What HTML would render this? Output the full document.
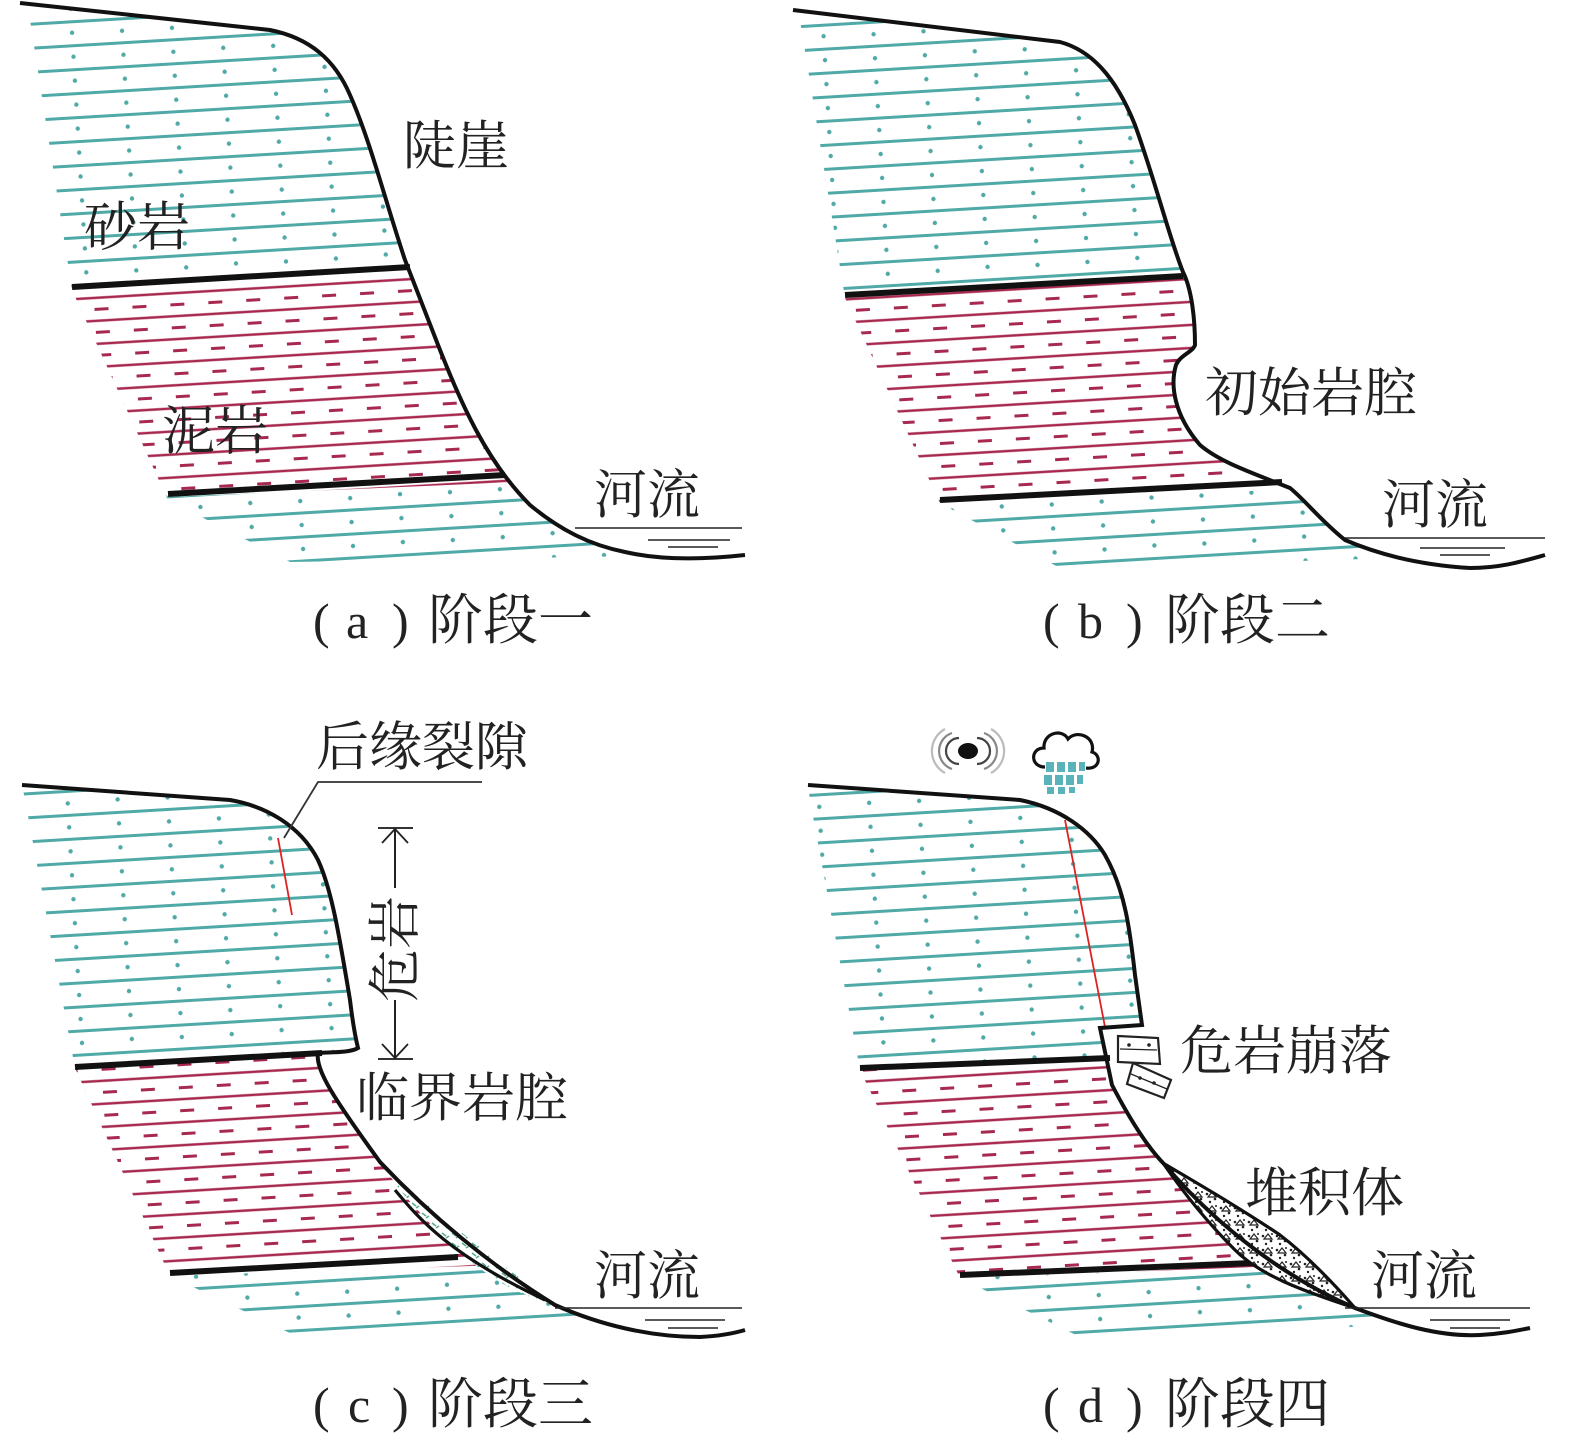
<!DOCTYPE html>
<html><head><meta charset="utf-8"><style>
html,body{margin:0;padding:0;background:#fff;}
svg{display:block;}
text{font-family:"Liberation Serif","Noto Serif CJK SC",serif;fill:#222;}
</style></head><body>
<svg width="1575" height="1447" viewBox="0 0 1575 1447" xmlns="http://www.w3.org/2000/svg">
<defs>
<pattern id="sand" patternUnits="userSpaceOnUse" width="150" height="24" patternTransform="rotate(-3.4)">
  <line x1="0" y1="2" x2="150" y2="2" stroke="#4fa9a6" stroke-width="3"/>
  <circle cx="20" cy="14" r="2.2" fill="#4fa9a6"/><circle cx="70" cy="13" r="2.2" fill="#4fa9a6"/><circle cx="120" cy="14" r="2.2" fill="#4fa9a6"/>
</pattern>
<pattern id="mud" patternUnits="userSpaceOnUse" width="114" height="23" patternTransform="rotate(-3.4)">
  <line x1="0" y1="4" x2="114" y2="4" stroke="#a8294f" stroke-width="2.6"/>
  <line x1="0" y1="15.5" x2="114" y2="15.5" stroke="#a8294f" stroke-width="3" stroke-dasharray="14 24"/>
</pattern>
<pattern id="deb" patternUnits="userSpaceOnUse" width="14" height="14">
  <rect width="14" height="14" fill="#fff"/>
  <circle cx="3" cy="4" r="1.3" fill="#222"/><circle cx="11" cy="9" r="1.3" fill="#222"/><circle cx="6" cy="12" r="1.2" fill="#222"/><circle cx="12" cy="2" r="1" fill="#222"/>
  <path d="M8 2 l4 5 h-8z" fill="none" stroke="#222" stroke-width="1.2"/>
</pattern>
<pattern id="debg" patternUnits="userSpaceOnUse" width="10" height="10">
  <rect width="10" height="10" fill="#fff"/><path d="M2 3 l4 3 M6 8 l3 -2" stroke="#5aa990" stroke-width="1.6"/>
</pattern>

<clipPath id="ca"><path d="M20,3 L270,30 C310,38 335,60 350,95 C370,140 385,200 405,260 L440,350 C460,400 485,460 530,505 C560,530 590,545 625,552 L640,556 L290,562 L168,500 L72,290 L30,20 Z"/></clipPath>
<clipPath id="cb"><path d="M793,10 L1060,42 C1090,50 1115,75 1135,125 C1155,180 1170,240 1183,272 C1192,290 1195,320 1195,345 C1193,352 1180,355 1176,365 C1170,385 1174,415 1200,445 C1220,462 1250,472 1290,488 C1305,500 1320,520 1345,540 L1400,558 L1060,568 L940,503 L845,298 L800,20 Z"/></clipPath>
<clipPath id="cc"><path d="M22,785 L230,800 C265,806 300,825 318,860 C332,890 340,940 350,1000 C353,1025 356,1040 358,1048 C350,1053 330,1052 318,1053 C315,1070 335,1100 380,1162 C430,1215 490,1265 555,1305 L600,1322 L290,1333 L170,1276 L75,1068 L25,800 Z"/></clipPath>
<clipPath id="cd"><path d="M808,785 L1020,800 C1060,808 1090,830 1105,855 C1125,890 1130,930 1135,975 L1142,1025 L1100,1028 L1112,1085 C1125,1110 1145,1145 1165,1165 C1220,1230 1290,1280 1355,1308 L1400,1325 L1080,1337 L960,1278 L860,1070 L810,800 Z"/></clipPath>
</defs>

<!-- PANEL A -->
<g clip-path="url(#ca)">
  <rect x="0" y="0" width="800" height="600" fill="url(#sand)"/>
  <polygon points="40,290 800,245 800,470 168,497" fill="#fff"/>
  <polygon points="40,290 800,245 800,470 168,497" fill="url(#mud)"/>
</g>
<line x1="72" y1="287" x2="410" y2="267" stroke="#111" stroke-width="6"/>
<line x1="168" y1="494" x2="505" y2="475" stroke="#111" stroke-width="6"/>
<path d="M20,3 L270,30 C310,38 335,60 350,95 C370,140 385,200 405,260 L440,350 C460,400 485,460 530,505 C560,530 590,545 625,552 C660,560 700,560 745,555" fill="none" stroke="#111" stroke-width="4"/>
<line x1="575" y1="528" x2="742" y2="528" stroke="#222" stroke-width="1.6"/>
<line x1="648" y1="540" x2="730" y2="540" stroke="#222" stroke-width="1.6"/>
<line x1="668" y1="547" x2="718" y2="547" stroke="#222" stroke-width="1.6"/>
<text x="403" y="164" font-size="53">陡崖</text>
<text x="84" y="245" font-size="53">砂岩</text>
<text x="162" y="449" font-size="53">泥岩</text>
<text x="594" y="513" font-size="53">河流</text>
<g font-size="50"><text x="313" y="638">(</text><text x="346" y="638">a</text><text x="392" y="638">)</text><text x="428" y="639" font-size="55">阶段一</text></g>

<!-- PANEL B -->
<g clip-path="url(#cb)">
  <rect x="780" y="0" width="800" height="600" fill="url(#sand)"/>
  <polygon points="820,298 1580,255 1580,478 940,503" fill="#fff"/>
  <polygon points="820,298 1580,255 1580,478 940,503" fill="url(#mud)"/>
</g>
<line x1="845" y1="295" x2="1183" y2="276" stroke="#111" stroke-width="6"/>
<line x1="940" y1="500" x2="1282" y2="482" stroke="#111" stroke-width="6"/>
<path d="M793,10 L1060,42 C1090,50 1115,75 1135,125 C1155,180 1170,240 1183,272 C1192,290 1195,320 1195,345 C1193,352 1180,355 1176,365 C1170,385 1174,415 1200,445 C1220,462 1250,472 1290,488 C1305,500 1320,520 1345,540 C1380,555 1420,565 1470,568 C1500,568 1520,562 1545,555" fill="none" stroke="#111" stroke-width="4"/>
<line x1="1345" y1="538" x2="1545" y2="538" stroke="#222" stroke-width="1.6"/>
<line x1="1420" y1="548" x2="1505" y2="548" stroke="#222" stroke-width="1.6"/>
<line x1="1440" y1="555" x2="1490" y2="555" stroke="#222" stroke-width="1.6"/>
<text x="1205" y="411" font-size="53">初始岩腔</text>
<text x="1382" y="523" font-size="53">河流</text>
<g font-size="50"><text x="1043" y="638">(</text><text x="1078" y="638">b</text><text x="1126" y="638">)</text><text x="1165" y="639" font-size="55">阶段二</text></g>

<!-- PANEL C -->
<g clip-path="url(#cc)">
  <rect x="0" y="770" width="800" height="600" fill="url(#sand)"/>
  <polygon points="40,1070 800,1025 800,1255 170,1276" fill="#fff"/>
  <polygon points="40,1070 800,1025 800,1255 170,1276" fill="url(#mud)"/>
</g>
<line x1="75" y1="1067" x2="322" y2="1053" stroke="#111" stroke-width="6"/>
<line x1="170" y1="1273" x2="458" y2="1257" stroke="#111" stroke-width="6"/>
<path d="M382,1165 C420,1200 470,1240 555,1305 C500,1290 460,1260 400,1190 Z" fill="url(#debg)"/>
<path d="M395,1190 C420,1220 450,1255 545,1300" fill="none" stroke="#111" stroke-width="3.2"/>
<line x1="278" y1="838" x2="292" y2="915" stroke="#d22" stroke-width="1.8"/>
<path d="M22,785 L230,800 C265,806 300,825 318,860 C332,890 340,940 350,1000 C353,1025 356,1040 358,1048 C350,1053 330,1052 318,1053 C315,1070 335,1100 380,1162 C430,1215 490,1265 555,1305 C600,1325 650,1337 700,1337 C720,1336 735,1333 745,1330" fill="none" stroke="#111" stroke-width="4"/>
<polyline points="284,838 318,782 482,782" fill="none" stroke="#333" stroke-width="1.8"/>
<text x="316" y="765" font-size="53">后缘裂隙</text>
<line x1="378" y1="828" x2="413" y2="828" stroke="#333" stroke-width="2"/>
<line x1="378" y1="1059" x2="413" y2="1059" stroke="#333" stroke-width="2"/>
<line x1="395" y1="828" x2="395" y2="888" stroke="#222" stroke-width="2"/>
<line x1="395" y1="1000" x2="395" y2="1059" stroke="#222" stroke-width="2"/>
<polyline points="382,843 395,829 408,843" fill="none" stroke="#222" stroke-width="1.8"/>
<polyline points="382,1044 395,1058 408,1044" fill="none" stroke="#222" stroke-width="1.8"/>
<text transform="translate(413,1002) rotate(-90)" font-size="53">危岩</text>
<text x="356" y="1116" font-size="53">临界岩腔</text>
<text x="594" y="1294" font-size="53">河流</text>
<line x1="555" y1="1308" x2="742" y2="1308" stroke="#222" stroke-width="1.6"/>
<line x1="645" y1="1320" x2="725" y2="1320" stroke="#222" stroke-width="1.6"/>
<line x1="668" y1="1328" x2="718" y2="1328" stroke="#222" stroke-width="1.6"/>
<g font-size="50"><text x="313" y="1422">(</text><text x="348" y="1422">c</text><text x="392" y="1422">)</text><text x="428" y="1423" font-size="55">阶段三</text></g>

<!-- PANEL D -->
<g clip-path="url(#cd)">
  <rect x="790" y="770" width="800" height="600" fill="url(#sand)"/>
  <polygon points="830,1070 1580,1030 1580,1255 960,1278" fill="#fff"/>
  <polygon points="830,1070 1580,1030 1580,1255 960,1278" fill="url(#mud)"/>
</g>
<line x1="860" y1="1068" x2="1110" y2="1058" stroke="#111" stroke-width="6"/>
<line x1="960" y1="1275" x2="1252" y2="1263" stroke="#111" stroke-width="6"/>
<path d="M1163,1163 C1200,1185 1240,1208 1280,1235 C1310,1258 1335,1285 1355,1308 C1300,1290 1260,1275 1235,1250 C1210,1225 1185,1195 1163,1163 Z" fill="url(#deb)" stroke="#111" stroke-width="3.2"/>
<line x1="1065" y1="820" x2="1105" y2="1027" stroke="#d22" stroke-width="1.8"/>
<path d="M808,785 L1020,800 C1060,808 1090,830 1105,855 C1125,890 1130,930 1135,975 L1142,1025 L1100,1028 L1112,1085 C1125,1110 1145,1145 1165,1165 C1220,1230 1290,1280 1355,1308 C1400,1325 1440,1337 1480,1335 C1500,1334 1515,1331 1530,1328" fill="none" stroke="#111" stroke-width="4"/>
<g fill="#fff" stroke="#222" stroke-width="2.2">
  <polygon points="1118,1036 1158,1038 1160,1064 1118,1062"/>
  <polygon points="1133,1063 1171,1080 1164,1098 1127,1084"/>
</g>
<line x1="1120" y1="1049" x2="1157" y2="1050" stroke="#222" stroke-width="1.3"/>
<line x1="1131" y1="1074" x2="1167" y2="1089" stroke="#222" stroke-width="1.3"/>
<circle cx="1129" cy="1045" r="1.8" fill="#222"/><circle cx="1149" cy="1045" r="1.8" fill="#222"/><circle cx="1140" cy="1078" r="1.8" fill="#222"/><circle cx="1154" cy="1083" r="1.8" fill="#222"/>
<text x="1180" y="1069" font-size="53">危岩崩落</text>
<text x="1245" y="1211" font-size="53">堆积体</text>
<text x="1371" y="1294" font-size="53">河流</text>
<line x1="1345" y1="1308" x2="1530" y2="1308" stroke="#222" stroke-width="1.6"/>
<line x1="1430" y1="1320" x2="1510" y2="1320" stroke="#222" stroke-width="1.6"/>
<line x1="1450" y1="1328" x2="1500" y2="1328" stroke="#222" stroke-width="1.6"/>
<!-- icons -->
<g fill="none" stroke-width="2.2">
  <path d="M959,738 a13,13 0 0 0 0,26" stroke="#444"/><path d="M977,738 a13,13 0 0 1 0,26" stroke="#444"/>
  <path d="M952,733 a19,19 0 0 0 0,36" stroke="#888"/><path d="M984,733 a19,19 0 0 1 0,36" stroke="#888"/>
  <path d="M945,729 a25,25 0 0 0 0,44" stroke="#bbb"/><path d="M991,729 a25,25 0 0 1 0,44" stroke="#bbb"/>
</g>
<ellipse cx="968" cy="751" rx="10" ry="8" fill="#111"/>
<path d="M1045,767 C1030,767 1030,748 1044,748 C1043,733 1062,728 1068,739 C1077,729 1096,737 1092,752 C1102,755 1100,770 1086,768" fill="none" stroke="#111" stroke-width="3.2"/>
<g fill="#5ab3b8">
  <rect x="1046" y="762" width="8" height="10"/><rect x="1057" y="762" width="8" height="10"/><rect x="1068" y="762" width="8" height="10"/><rect x="1079" y="762" width="6" height="9"/>
  <rect x="1044" y="775" width="8" height="10"/><rect x="1055" y="775" width="8" height="10"/><rect x="1066" y="775" width="8" height="10"/><rect x="1077" y="775" width="6" height="9"/>
  <rect x="1047" y="787" width="7" height="7"/><rect x="1058" y="787" width="7" height="7"/><rect x="1069" y="787" width="6" height="6"/>
</g>
<g font-size="50"><text x="1043" y="1422">(</text><text x="1078" y="1422">d</text><text x="1126" y="1422">)</text><text x="1165" y="1423" font-size="55">阶段四</text></g>
</svg>
</body></html>
